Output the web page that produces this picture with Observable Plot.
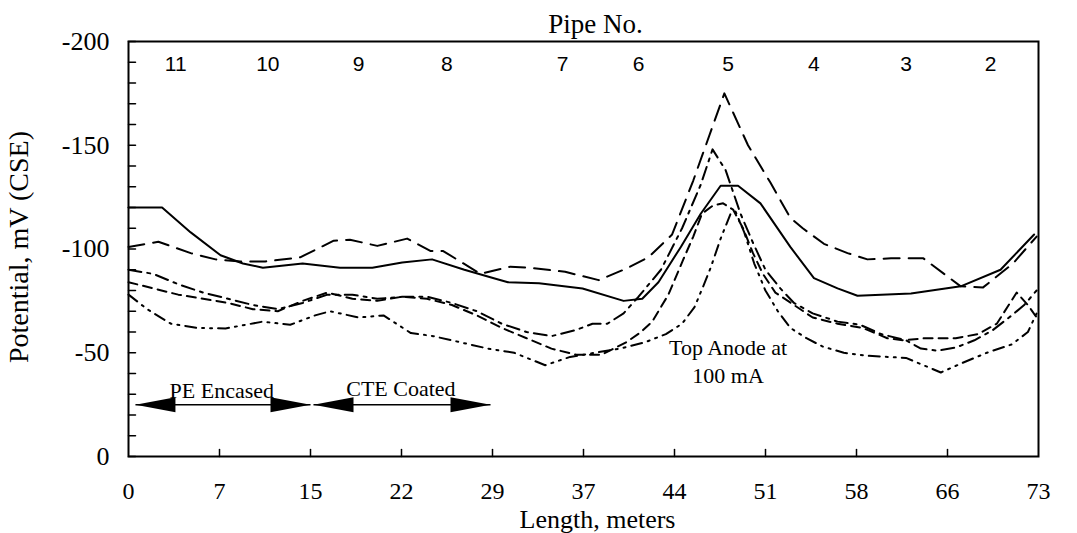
<!DOCTYPE html>
<html>
<head>
<meta charset="utf-8">
<script src="https://cdn.jsdelivr.net/npm/d3@7"></script>
<script src="https://cdn.jsdelivr.net/npm/@observablehq/plot@0.6"></script>
<style>
  html, body { margin: 0; padding: 0; background: #fff; }
</style>
</head>
<body>
<div id="chart"></div>
<script>
// ---- data ----
const xTickLabels = ["0", "7", "15", "22", "29", "37", "44", "51", "58", "66", "73"];
const xTickValues = xTickLabels.map((d, i) => i * 7.3152); // 24 ft steps, in meters
const yMajorTicks = [0, -50, -100, -150, -200];
const yMinorTicks = d3.range(0, -201, -10);

const pipeNumbers = ["11", "10", "9", "8", "7", "6", "5", "4", "3", "2"];
const pipeX = [3.8, 11.2, 18.5, 25.6, 34.9, 41.0, 48.2, 55.1, 62.5, 69.3];

const seriesSolid = [[0,-120],[2.7,-120],[5,-108],[7.4,-97],[9.2,-93],[10.8,-91],[14,-93],[17,-91],[19.6,-91],[22,-93.5],[24.4,-95],[27,-90],[29.3,-86],[30.5,-84],[33,-83.5],[36.5,-81],[39.8,-75],[41.3,-76],[42.6,-84],[44.4,-101],[46,-117],[47.6,-130.5],[49,-130.5],[50.8,-122],[53.2,-101],[55.1,-86],[57,-81],[58.6,-77.5],[62.9,-78.5],[66.9,-82],[70.1,-90],[72.8,-107]];
const seriesLongDash = [[0,-101],[2.4,-103.5],[5,-98],[7,-95],[9,-94],[11,-94],[13.8,-96],[16.5,-104],[17.8,-104.5],[20,-101.5],[22.4,-105],[24.3,-99],[25.3,-99],[28.3,-88],[30.7,-91.5],[32.2,-91],[35.1,-89],[37.8,-85],[40,-90.5],[41.8,-96],[43.7,-107],[45.4,-133],[47.9,-175],[49.8,-150],[51.6,-132],[53.2,-115],[54.2,-110],[55.9,-102.5],[57.8,-98],[59.4,-95],[61.3,-95.5],[63.9,-95.5],[66.9,-82],[68.7,-81.5],[71.1,-93],[73,-106]];
const seriesDashDot = [[0,-90],[2,-88],[4,-83],[6,-79],[8,-76],[10,-73],[12,-71],[14,-74],[16,-78],[18,-78],[20,-76],[22,-77],[24,-77],[26,-74],[28,-70],[30,-64],[32,-60],[34,-58],[36,-61],[37.3,-64],[38.5,-64],[39.8,-69],[41,-77],[42.8,-90],[44.5,-110],[46,-131],[46.95,-148],[48,-138],[49.2,-117],[50.2,-103],[51.2,-90],[52.4,-81],[53.5,-74],[55,-69],[57,-65],[58.8,-63.5],[60.5,-59],[62.5,-56],[63.7,-52],[65,-51],[66.5,-52.5],[68,-56],[69.5,-61],[71,-68],[72,-73],[73,-80]];
const seriesShortDash = [[0,-84],[2,-81],[4,-78],[6,-76],[8,-74],[10,-71],[12,-70],[14,-75],[16,-79],[18,-76],[20,-75],[22,-77],[24,-76],[26,-73],[28,-68],[30,-62],[32,-57],[34,-52],[36,-49],[38,-49],[40,-55],[41.2,-60],[42.1,-65],[43.4,-78],[44.6,-95],[45.4,-106],[46.1,-117],[47,-121],[47.8,-122],[48.6,-119],[49.4,-110],[50.2,-98],[51,-88],[52,-79],[53.5,-73],[55,-67],[57,-64],[59,-62],[61,-57],[62.3,-56],[64,-57],[66.5,-57],[68.3,-59],[69.8,-64],[71.4,-79],[72.3,-73],[73,-67]];
const seriesDashDotDot = [[0,-78],[1.5,-71],[3.4,-64],[5.5,-62],[7.8,-61.7],[10.8,-65],[13,-63.5],[15,-68],[16.2,-70],[18.5,-67],[20.5,-68],[22.7,-59.5],[24.5,-58],[26.7,-55],[28.9,-52],[31,-50],[33.5,-44],[35.5,-48],[37.5,-50],[39.5,-52],[41.5,-55],[43.2,-59],[44.5,-64],[45.5,-72],[46.2,-82],[46.8,-91],[47.6,-105],[48.4,-117],[48.8,-118],[49.5,-108],[50.3,-93],[51.2,-80],[52.2,-70],[53.2,-62],[54.5,-57],[55.8,-53],[57.5,-50],[59.5,-48.5],[62.5,-47.5],[65.3,-40.5],[67,-45],[69,-50],[71,-54],[72.3,-60],[73,-69]];

const arrowLabels = ["PE Encased", "CTE Coated"];
const arrowStart = [0.56, 14.87];
const arrowEnd = [14.63, 29.1];
const arrowLevel = -25;
const arrowLabelX = [7.5, 21.9];
const arrowLabelY = [-28.4, -29.2];

const noteLines = ["Top Anode at", "100 mA"];
const noteX = [48.2, 48.2];
const noteY = [-48.7, -35.2];

const xTitle = "Length, meters";
const yTitle = "Potential, mV (CSE)";
const topTitle = "Pipe No.";

// ---- shapes ----
const tickShape = {draw(ctx, l) { ctx.moveTo(0, 0); ctx.lineTo(0, -l); }};
const headShape = {draw(ctx, l) { ctx.moveTo(0, -l); ctx.lineTo(-7.5, 0); ctx.lineTo(7.5, 0); ctx.closePath(); }};

const toPts = s => s.map(([x, y]) => ({x, y}));
const lineStyle = {x: "x", y: "y", stroke: "black", strokeWidth: 2};

const heads = [
  ...arrowStart.map(x => ({x, y: arrowLevel, r: -90})),
  ...arrowEnd.map(x => ({x, y: arrowLevel, r: 90}))
];

const chart = Plot.plot({
  width: 1077,
  height: 533,
  marginLeft: 128,
  marginRight: 39,
  marginTop: 41,
  marginBottom: 77,
  style: {background: "white", color: "black", fontFamily: "Liberation Serif"},
  x: {domain: [0, 73.152]},
  y: {domain: [0, -200]},
  marks: [
    Plot.frame({stroke: "black", strokeWidth: 2}),
    Plot.axisY({ticks: yMajorTicks, tickSize: 0, tickPadding: 19, fontSize: 26, label: null, tickFormat: d => String(d)}),
    Plot.axisX({ticks: xTickValues, tickSize: 0, tickPadding: 25, fontSize: 24, label: null,
      tickFormat: d => xTickLabels[xTickValues.indexOf(d)]}),
    Plot.vector(yMinorTicks, {y: d => d, frameAnchor: "left", rotate: 90, anchor: "start", length: 7, shape: tickShape, stroke: "black", strokeWidth: 1.5}),
    Plot.vector(xTickValues.slice(1, -1), {x: d => d, frameAnchor: "bottom", anchor: "start", length: 7, shape: tickShape, stroke: "black", strokeWidth: 1.5}),
    Plot.line(toPts(seriesSolid), {...lineStyle}),
    Plot.line(toPts(seriesLongDash), {...lineStyle, strokeDasharray: "16,9"}),
    Plot.line(toPts(seriesDashDot), {...lineStyle, strokeDasharray: "13,6,3,6"}),
    Plot.line(toPts(seriesShortDash), {...lineStyle, strokeDasharray: "9,6"}),
    Plot.line(toPts(seriesDashDotDot), {...lineStyle, strokeDasharray: "11,6,2,6,2,6"}),
    Plot.link(arrowLabels, {x1: (d, i) => arrowStart[i], x2: (d, i) => arrowEnd[i], y1: arrowLevel, y2: arrowLevel, stroke: "black", strokeWidth: 1.5}),
    Plot.vector(heads, {x: "x", y: "y", rotate: "r", anchor: "end", length: 40, shape: headShape, fill: "black", stroke: "none"}),
    Plot.text(arrowLabels, {x: (d, i) => arrowLabelX[i], y: (d, i) => arrowLabelY[i], text: d => d, lineAnchor: "bottom", fontSize: 22}),
    Plot.text(noteLines, {x: (d, i) => noteX[i], y: (d, i) => noteY[i], text: d => d, lineAnchor: "bottom", fontSize: 22}),
    Plot.text(pipeNumbers, {x: (d, i) => pipeX[i], text: d => d, frameAnchor: "top", dy: 23, lineAnchor: "middle", fontFamily: "Liberation Sans", fontSize: 21}),
    Plot.text([topTitle], {text: d => d, frameAnchor: "top", dx: 12, dy: -9, lineAnchor: "bottom", fontSize: 27}),
    Plot.text([xTitle], {text: d => d, frameAnchor: "bottom", dx: 14, dy: 71, lineAnchor: "bottom", fontSize: 26}),
    Plot.text([yTitle], {text: d => d, frameAnchor: "left", textAnchor: "middle", rotate: -90, dx: -120, dy: -2, lineAnchor: "top", fontSize: 28})
  ]
});
document.getElementById("chart").appendChild(chart);
</script>
</body>
</html>
